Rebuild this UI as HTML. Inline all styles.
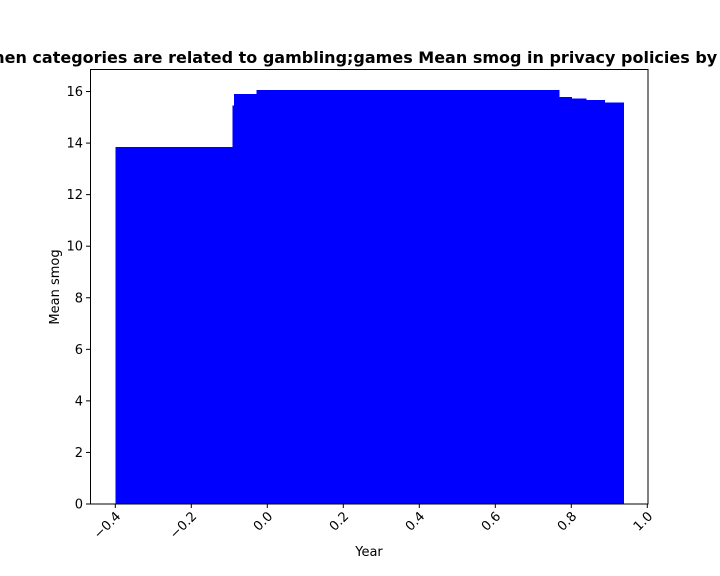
<!DOCTYPE html>
<html><head><meta charset="utf-8"><style>
html,body{margin:0;padding:0;background:#fff;}
svg{display:block;font-family:"DejaVu Sans","Liberation Sans",sans-serif;}
</style></head><body>
<svg id="chart" width="720" height="576" viewBox="0 0 720 576">
<text x="369" y="63" text-anchor="middle" font-size="16" font-weight="bold">When categories are related to gambling;games Mean smog in privacy policies by Year</text>
<g id="bars" shape-rendering="crispEdges"></g>
<rect x="90.5" y="69.5" width="557.5" height="434.5" fill="none" stroke="#000" stroke-width="1"/>
<g id="axes"></g>
<text x="369" y="556" text-anchor="middle" font-size="13">Year</text>
<text transform="translate(59,287) rotate(-90)" text-anchor="middle" font-size="13">Mean smog</text>
</svg>
<script>
const barLefts = [-0.4, -0.092, -0.087, -0.029, 0.768, 0.8, 0.839, 0.887];
const barRights = [-0.092, -0.087, -0.029, 0.768, 0.8, 0.839, 0.887, 0.937];
const barValues = [13.85, 15.45, 15.9, 16.05, 15.78, 15.72, 15.67, 15.58];
const xTicks = [-0.4, -0.2, 0.0, 0.2, 0.4, 0.6, 0.8, 1.0];
const xTickLabels = ["\u22120.4", "\u22120.2", "0.0", "0.2", "0.4", "0.6", "0.8", "1.0"];
const yTicks = [0, 2, 4, 6, 8, 10, 12, 14, 16];

const NS = "http://www.w3.org/2000/svg";
const xs = v => 267.3 + v * 380;
const ys = v => 504 - v * 25.78;
const bars = document.getElementById('bars');
const axes = document.getElementById('axes');
for (let i = 0; i < barValues.length; i++) {
  const r = document.createElementNS(NS, 'rect');
  const x0 = xs(barLefts[i]), x1 = xs(barRights[i]);
  r.setAttribute('x', x0); r.setAttribute('width', x1 - x0 + 0.5);
  r.setAttribute('y', ys(barValues[i])); r.setAttribute('height', ys(0) - ys(barValues[i]));
  r.setAttribute('fill', '#0000ff');
  
  
  bars.appendChild(r);
}
xTicks.forEach((t, i) => {
  const x = xs(t);
  const l = document.createElementNS(NS, 'line');
  l.setAttribute('x1', x); l.setAttribute('x2', x); l.setAttribute('y1', 504); l.setAttribute('y2', 508);
  l.setAttribute('stroke', '#000');
  
  
  axes.appendChild(l);
  const tx = document.createElementNS(NS, 'text');
  tx.setAttribute('transform', `translate(${x + 6},${517}) rotate(-45)`);
  tx.setAttribute('text-anchor', 'end'); tx.setAttribute('font-size', '13');
  tx.textContent = xTickLabels[i];
  
  
  axes.appendChild(tx);
});
yTicks.forEach(t => {
  const y = ys(t);
  const l = document.createElementNS(NS, 'line');
  l.setAttribute('x1', 86); l.setAttribute('x2', 90); l.setAttribute('y1', y); l.setAttribute('y2', y);
  l.setAttribute('stroke', '#000');
  
  
  axes.appendChild(l);
  const tx = document.createElementNS(NS, 'text');
  tx.setAttribute('x', 83); tx.setAttribute('y', y + 4.5);
  tx.setAttribute('text-anchor', 'end'); tx.setAttribute('font-size', '13');
  tx.textContent = String(t);
  
  
  axes.appendChild(tx);
});
</script>
</body></html>
